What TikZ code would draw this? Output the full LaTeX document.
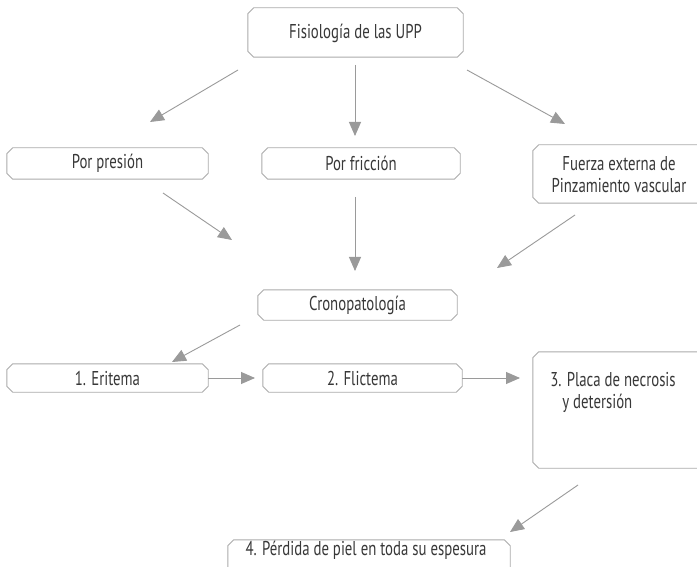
\documentclass[tikz,border=0pt]{standalone}
\usepackage{fontspec}
\setmainfont{PT Sans}[FakeStretch=0.74]
\usetikzlibrary{arrows.meta}
\definecolor{boxgray}{HTML}{ABABAB}
\definecolor{arrgray}{HTML}{9A9A9A}
\definecolor{txtgray}{HTML}{383838}
\tikzset{
  lbl/.style={font=\fontsize{20}{22}\selectfont, text=txtgray, inner sep=0pt},
  frame/.style={draw=none, inner sep=0pt},
  conn/.style={draw=arrgray, line width=0.9pt, -{Triangle[length=14pt,width=12pt]}},
}
\newcommand\chamf[1]{%
  \draw[boxgray, line width=0.9pt]
    ([xshift=6pt]#1.north west) -- ([xshift=-6pt]#1.north east)
    -- ([yshift=-6pt]#1.north east) -- ([yshift=6pt]#1.south east)
    -- ([xshift=-6pt]#1.south east) -- ([xshift=6pt]#1.south west)
    -- ([yshift=6pt]#1.south west) -- ([yshift=-6pt]#1.north west) -- cycle;}
\begin{document}
\begin{tikzpicture}[x=1pt,y=-1pt]
\clip (0,0) rectangle (697,567);
\fill[white] (0,0) rectangle (697,567);
% frames
\node[frame, minimum width=215pt, minimum height=49pt] (fb) at (355.5,32.5) {};
\node[frame, minimum width=201pt, minimum height=31pt] (pb) at (107.5,163.5) {};
\node[frame, minimum width=198pt, minimum height=31pt] (fcb) at (361,163.5) {};
\node[frame, minimum width=172pt, minimum height=58pt] (feb) at (619,174) {};
\node[frame, minimum width=199pt, minimum height=30pt] (cb) at (357.5,305) {};
\node[frame, minimum width=201pt, minimum height=28pt] (eb) at (107.5,378) {};
\node[frame, minimum width=199pt, minimum height=28pt] (flb) at (362.5,378) {};
\node[frame, minimum width=172pt, minimum height=116pt] (pnb) at (619,410) {};
\node[frame, minimum width=282pt, minimum height=35pt] (pdb) at (369,557.5) {};
\foreach \n in {fb,pb,fcb,feb,cb,eb,flb,pnb,pdb} {\chamf{\n}}
% texts
\node[lbl] (ft) at (355.5,33) {Fisiología de las UPP};
\node[lbl] (pt) at (107.5,163.5) {Por presión};
\node[lbl] (fct) at (361,163.5) {Por fricción};
\node[lbl, align=center] (fet) at (619,175) {Fuerza externa de\\Pinzamiento vascular};
\node[lbl, align=left] (pnt) at (613,392) {3. Placa de necrosis\\\hspace*{12pt}y detersión};
\node[lbl] (ct) at (357.5,305) {Cronopatología};
\node[lbl] (et) at (107.5,378) {1. Eritema};
\node[lbl] (flt) at (362.5,378) {2. Flictema};
\node[lbl] (pdt) at (366,550) {4. Pérdida de piel en toda su espesura};
% connector endpoints
\coordinate (a1s) at (238,70);  \coordinate (a1e) at (150,122);
\coordinate (a2s) at (355,65);  \coordinate (a2e) at (355,136);
\coordinate (a3s) at (467,70);  \coordinate (a3e) at (565,124);
\coordinate (b1s) at (163,193); \coordinate (b1e) at (232,240);
\coordinate (b2s) at (355,197); \coordinate (b2e) at (355,271);
\coordinate (b3s) at (575,215); \coordinate (b3e) at (497,268);
\coordinate (c1s) at (240,325); \coordinate (c1e) at (172,362);
\coordinate (d1e) at (255,378);
\coordinate (d2e) at (520,378);
\coordinate (e1s) at (578,485); \coordinate (e1e) at (510,532);
\draw[conn] (a1s) -- (a1e);
\draw[conn] (a2s) -- (a2e);
\draw[conn] (a3s) -- (a3e);
\draw[conn] (b1s) -- (b1e);
\draw[conn] (b2s) -- (b2e);
\draw[conn] (b3s) -- (b3e);
\draw[conn] (c1s) -- (c1e);
\draw[conn] (eb.east) -- (d1e);
\draw[conn] (flb.east) -- (d2e);
\draw[conn] (e1s) -- (e1e);
\end{tikzpicture}
\end{document}
